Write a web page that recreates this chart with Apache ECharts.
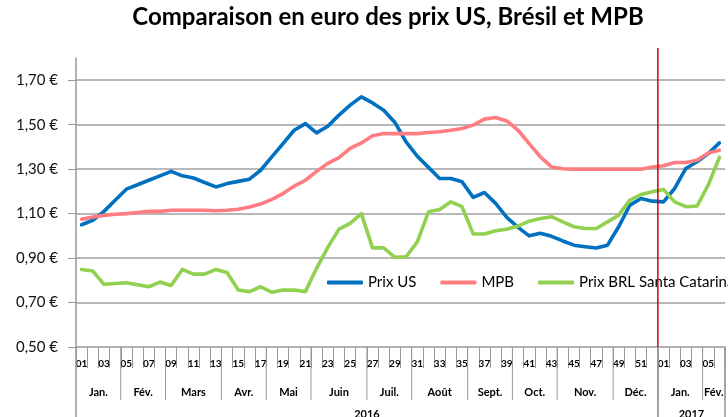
<!DOCTYPE html>
<html><head><meta charset="utf-8">
<script src="https://cdn.jsdelivr.net/npm/echarts@6/dist/echarts.min.js"></script>
<style>html,body{margin:0;padding:0;background:#fff}#c{width:728px;height:417px}</style>
</head><body><div id="c"></div>
<script>
const weekLabels = ['01','02','03','04','05','06','07','08','09','10','11','12','13','14','15','16','17','18','19','20','21','22','23','24','25','26','27','28','29','30','31','32','33','34','35','36','37','38','39','40','41','42','43','44','45','46','47','48','49','50','51','52','01','02','03','04','05','06'];
const prixUS = [1.05,1.07,1.11,1.16,1.21,1.23,1.25,1.27,1.29,1.27,1.26,1.24,1.22,1.235,1.245,1.255,1.295,1.355,1.415,1.475,1.505,1.463,1.493,1.543,1.588,1.625,1.598,1.565,1.51,1.423,1.358,1.308,1.258,1.258,1.243,1.173,1.195,1.146,1.083,1.038,1.0,1.012,0.998,0.977,0.958,0.951,0.945,0.958,1.041,1.138,1.168,1.156,1.153,1.213,1.303,1.333,1.37,1.418];
const mpb = [1.075,1.085,1.092,1.097,1.10,1.105,1.11,1.11,1.115,1.115,1.115,1.115,1.113,1.115,1.12,1.13,1.143,1.164,1.19,1.224,1.25,1.29,1.326,1.352,1.393,1.418,1.45,1.46,1.46,1.46,1.46,1.465,1.468,1.475,1.483,1.498,1.525,1.532,1.517,1.475,1.415,1.355,1.31,1.302,1.30,1.30,1.30,1.30,1.30,1.30,1.30,1.31,1.315,1.33,1.33,1.34,1.373,1.385];
const prixBRL = [0.849,0.842,0.782,0.786,0.789,0.78,0.771,0.792,0.777,0.849,0.828,0.828,0.849,0.835,0.756,0.749,0.771,0.746,0.756,0.756,0.749,0.854,0.948,1.03,1.056,1.10,0.946,0.946,0.903,0.906,0.973,1.108,1.119,1.153,1.131,1.008,1.008,1.023,1.03,1.044,1.066,1.078,1.086,1.063,1.041,1.033,1.033,1.063,1.093,1.161,1.186,1.198,1.209,1.153,1.131,1.134,1.228,1.353];
const yTickValues = [0.5,0.7,0.9,1.1,1.3,1.5,1.7];
const yTickLabels = ['0,50 €','0,70 €','0,90 €','1,10 €','1,30 €','1,50 €','1,70 €'];
const monthNames = ['Jan.','Fév.','Mars','Avr.','Mai','Juin','Juil.','Août','Sept.','Oct.','Nov.','Déc.','Jan.','Fév.'];
const monthStart = [0,4,8,13,17,21,26,30,35,39,43,48,52,56];
const monthEnd   = [3,7,12,16,20,25,29,34,38,42,47,51,55,57];
const yearNames = ['2016','2017'];
const yearStart = [0,52];
const yearEnd = [51,57];
const markerIndex = 52;
const seriesNames = ['Prix US','MPB','Prix BRL Santa Catarina'];
const seriesColors = ['#0070C0','#FF7C80','#92D050'];
const titleText = 'Comparaison en euro des prix US, Brésil et MPB';

const FONT = 'Lato, "Open Sans", sans-serif';
const Y_MIN = 0.5, Y_MAX = 1.8, RED_TOP = 1.845;

const chart = echarts.init(document.getElementById('c'), null, {renderer: 'canvas'});

// size title to span ~512px, centred on x=388
const cv = document.createElement('canvas').getContext('2d');
cv.font = 'bold 20px ' + FONT;
const w20 = cv.measureText(titleText).width;
const titleSize = Math.round(20 * 512 / w20 * 2) / 2;
cv.font = 'bold ' + titleSize + 'px ' + FONT;
const titleW = cv.measureText(titleText).width;

function bandGeom(api, s, e) {
  const bw = api.size([1, 0])[0];
  const p0 = api.coord([s, Y_MIN]);
  const p1 = api.coord([e, Y_MIN]);
  return {x0: p0[0] - bw / 2, x1: p1[0] + bw / 2, y: p0[1]};
}

const lineSeries = [prixUS, mpb, prixBRL].map((d, i) => ({
  name: seriesNames[i], type: 'line', data: d, showSymbol: false, symbol: 'none',
  lineStyle: {width: 3.6, color: seriesColors[i], cap: 'round', join: 'round'},
  itemStyle: {color: seriesColors[i]}, z: 3 + i, animation: false
}));

const option = {
  animation: false,
  backgroundColor: '#fff',
  title: {
    text: titleText, left: 388 - titleW / 2, top: 20 - titleSize * 0.6, padding: 0,
    textStyle: {fontFamily: FONT, fontSize: titleSize, fontWeight: 'bold', color: '#000'}
  },
  legend: {
    data: seriesNames, left: 327, top: 275, padding: 0, width: 900,
    itemGap: 24, itemWidth: 36, itemHeight: 4, icon: 'roundRect',
    textStyle: {fontFamily: FONT, fontSize: 15, color: '#000'}
  },
  grid: {left: 76, right: 3, top: 58, bottom: 70, containLabel: false},
  xAxis: {
    type: 'category', data: weekLabels, boundaryGap: true,
    axisLine: {lineStyle: {color: '#999', width: 1.5}},
    axisTick: {show: true, interval: 0, length: 21, lineStyle: {color: '#999', width: 1}},
    axisLabel: {interval: 1, margin: 12, fontFamily: FONT, fontSize: 10, fontWeight: 'bold', color: '#000'},
    splitLine: {show: false}
  },
  yAxis: {
    type: 'value', min: Y_MIN, max: Y_MAX, interval: 0.2,
    axisLine: {show: true, lineStyle: {color: '#999', width: 1.5}},
    axisTick: {show: true, length: 8, lineStyle: {color: '#999', width: 1}, customValues: yTickValues},
    axisLabel: {
      margin: 18, fontFamily: FONT, fontSize: 15, color: '#111',
      customValues: yTickValues,
      formatter: v => { const k = Math.round((v - Y_MIN) / 0.2); return (k >= 0 && k < yTickValues.length && Math.abs(v - yTickValues[k]) < 1e-6) ? yTickLabels[k] : ''; }
    },
    splitLine: {show: true, showMinLine: false, lineStyle: {color: '#a0a0a0', width: 1.5}}
  },
  series: lineSeries.concat([
    {
      type: 'custom', name: 'months', silent: true, clip: false, z: 2,
      data: monthStart.map((s, i) => [s, monthEnd[i], Y_MIN]),
      encode: {x: [0, 1], y: 2},
      renderItem: (params, api) => {
        const g = bandGeom(api, api.value(0), api.value(1));
        return {type: 'group', children: [
          {type: 'line', shape: {x1: g.x1, y1: g.y, x2: g.x1, y2: g.y + 53}, style: {stroke: '#999', lineWidth: 1}},
          {type: 'text', x: (g.x0 + g.x1) / 2, y: g.y + 45, style: {text: monthNames[params.dataIndex], fill: '#000', font: 'bold 11px ' + FONT, align: 'center', verticalAlign: 'middle'}}
        ]};
      }
    },
    {
      type: 'custom', name: 'years', silent: true, clip: false, z: 2,
      data: yearStart.map((s, i) => [s, yearEnd[i], Y_MIN]),
      encode: {x: [0, 1], y: 2},
      renderItem: (params, api) => {
        const g = bandGeom(api, api.value(0), api.value(1));
        return {type: 'group', children: [
          {type: 'line', shape: {x1: g.x0, y1: g.y, x2: g.x0, y2: g.y + 80}, style: {stroke: '#999', lineWidth: 1.5}},
          {type: 'line', shape: {x1: g.x1, y1: g.y, x2: g.x1, y2: g.y + 80}, style: {stroke: '#999', lineWidth: 1.5}},
          {type: 'text', x: (g.x0 + g.x1) / 2, y: g.y + 67, style: {text: yearNames[params.dataIndex], fill: '#000', font: 'bold 11px ' + FONT, align: 'center', verticalAlign: 'middle'}}
        ]};
      }
    },
    {
      type: 'custom', name: 'marker', silent: true, clip: false, z: 10,
      data: [[markerIndex, Y_MIN]],
      encode: {x: 0, y: 1},
      renderItem: (params, api) => {
        const bw = api.size([1, 0])[0];
        const p0 = api.coord([api.value(0), Y_MIN]);
        const p1 = api.coord([api.value(0), RED_TOP]);
        const x = p0[0] - bw / 2;
        return {type: 'line', shape: {x1: x, y1: p0[1], x2: x, y2: p1[1]}, style: {stroke: '#D40000', lineWidth: 1.5}};
      }
    }
  ])
};
chart.setOption(option);
</script>
</body></html>
